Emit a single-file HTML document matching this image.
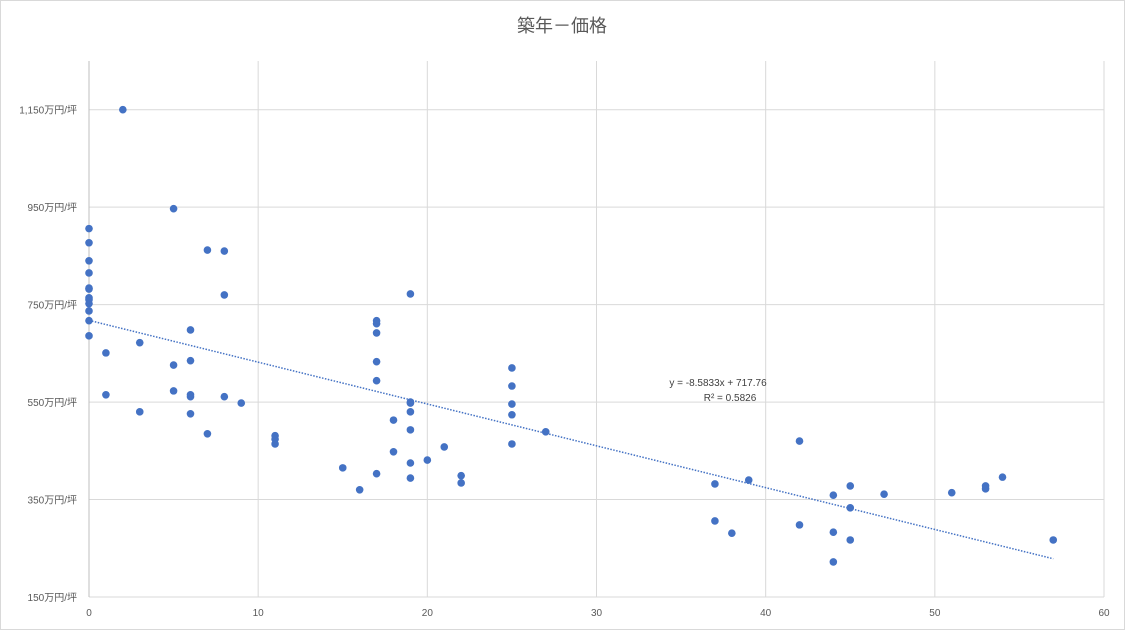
<!DOCTYPE html>
<html><head><meta charset="utf-8"><style>
body{margin:0;background:#fff}
svg{display:block;font-family:"Liberation Sans","Noto Sans CJK JP",sans-serif}
</style></head><body>
<svg id="chart" width="1125" height="630">
<rect x="0.5" y="0.5" width="1124" height="629" fill="#fff" stroke="#d9d9d9"/>
<text x="562" y="32" text-anchor="middle" font-size="18" fill="#595959">築年－価格</text>
<g id="grid"></g><g id="axes"></g><g id="trend"></g><g id="pts"></g>
<text x="718" y="386" text-anchor="middle" font-size="10" fill="#404040">y = -8.5833x + 717.76</text>
<text x="730" y="401" text-anchor="middle" font-size="10" fill="#404040">R² = 0.5826</text>
</svg>
<script>
const xs=[0,0,0,0,0,0,0,0,0,0,0,0,1,1,2,3,3,5,5,5,6,6,6,6,6,7,7,8,8,8,9,11,11,11,15,16,17,17,17,17,17,17,18,18,19,19,19,19,19,19,19,20,21,22,22,25,25,25,25,25,27,37,37,38,39,42,42,44,44,44,45,45,45,47,51,53,53,54,57];
const ys=[906,877,840,815,784,782,764,760,752,737,717,686,651,565,1150,672,530,947,626,573,698,635,565,561,526,862,485,860,770,561,548,481,474,464,415,370,717,711,692,633,594,403,513,448,772,550,548,530,493,425,394,431,458,399,384,620,583,546,524,464,489,382,306,281,390,470,298,359,283,222,378,333,267,361,364,378,372,396,267];
const xTicks=[0,10,20,30,40,50,60];
const yTicks=[150,350,550,750,950,1150];
const yTickLabels=["150万円/坪","350万円/坪","550万円/坪","750万円/坪","950万円/坪","1,150万円/坪"];
const trendSlope=-8.5833, trendIntercept=717.76;
const X0=89,X1=1104,Y0=597,Y1=61,XMIN=0,XMAX=60,YMIN=150,YMAX=1250;
const sx=v=>X0+(v-XMIN)/(XMAX-XMIN)*(X1-X0);
const sy=v=>Y0-(v-YMIN)/(YMAX-YMIN)*(Y0-Y1);
const NS="http://www.w3.org/2000/svg";
function mk(t,a,p){const e=document.createElementNS(NS,t);for(const k in a)e.setAttribute(k,a[k]);p.appendChild(e);return e;}
const grid=document.getElementById('grid'),axes=document.getElementById('axes'),pts=document.getElementById('pts'),trend=document.getElementById('trend');
xTicks.forEach(t=>{
 if(t!==XMIN){const l=mk('line',{x1:sx(t),x2:sx(t),y1:Y1,y2:Y0,stroke:'#d9d9d9'},grid);
 
 }
 const tx=mk('text',{x:sx(t),y:Y0+19,'text-anchor':'middle','font-size':10,fill:'#595959'},axes);tx.textContent=t;
 
 
});
yTicks.forEach((t,i)=>{
 const l=mk('line',{x1:X0,x2:X1,y1:sy(t),y2:sy(t),stroke:'#d9d9d9'},grid);
 
 
 const tx=mk('text',{x:X0-12,y:sy(t)+4,'text-anchor':'end','font-size':10,fill:'#595959'},axes);tx.textContent=yTickLabels[i];
 
 
});
const ya=mk('line',{x1:X0,x2:X0,y1:Y1,y2:Y0,stroke:'#bfbfbf'},axes);


const xMaxData=Math.max(...xs);
const tl=mk('line',{x1:sx(0),y1:sy(trendIntercept),x2:sx(xMaxData),y2:sy(trendIntercept+trendSlope*xMaxData),stroke:'#4472c4','stroke-width':1.5,'stroke-dasharray':'1.5 1.5'},trend);


xs.forEach((x,i)=>{
 const c=mk('circle',{cx:sx(x),cy:sy(ys[i]),r:3.8,fill:'#4472c4'},pts);
 
 
});
</script>
</body></html>
